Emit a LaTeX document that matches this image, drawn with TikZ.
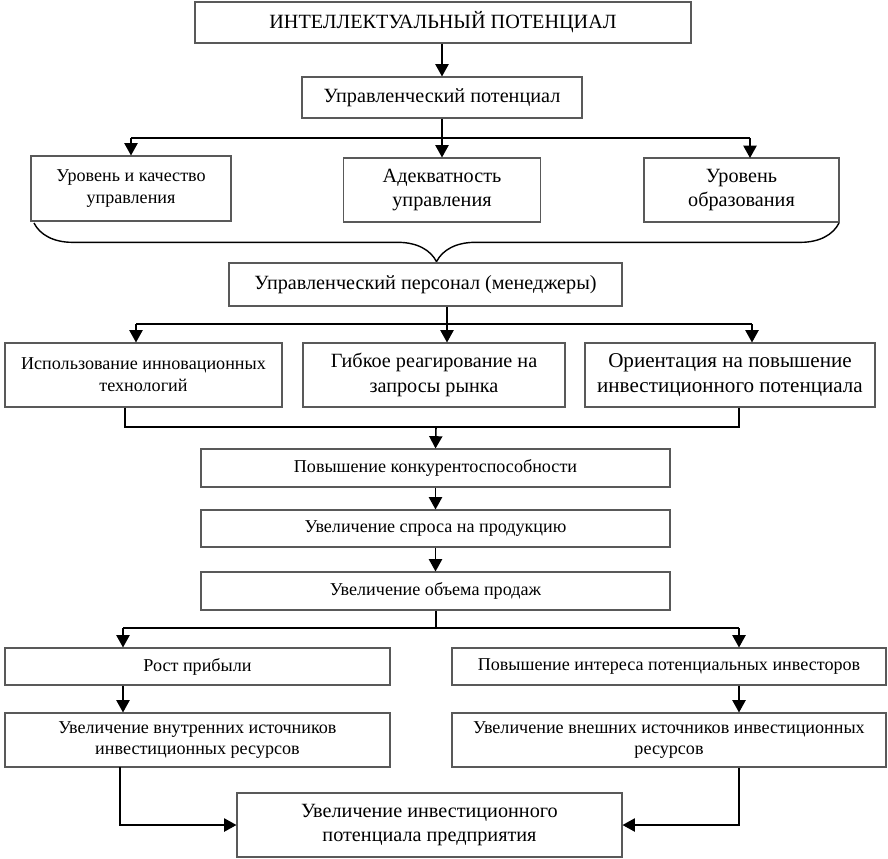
\documentclass[tikz,border=0pt]{standalone}
\usepackage{fontspec}
\setmainfont{Liberation Serif}
\usetikzlibrary{arrows.meta,decorations.pathreplacing,calc}

\tikzset{
  box/.style={draw=black!65, line width=0.6pt, align=center, inner sep=0pt},
  txtsmall/.style={font=\fontsize{10.3}{12.5}\selectfont},
  txtmid/.style={font=\fontsize{11.5}{14}\selectfont},
  txtbig/.style={font=\fontsize{12}{14.5}\selectfont},
  link/.style={line width=0.9pt},
  arr/.style={line width=0.9pt, -{Triangle[length=7pt,width=7.5pt]}}
}

\begin{document}
\begin{tikzpicture}
\useasboundingbox (0,0) rectangle (17.76,-17.16);

% Level 1
\node[box,txtmid,minimum width=9.92cm,minimum height=0.82cm] (intel) at (8.86,-0.45) {ИНТЕЛЛЕКТУАЛЬНЫЙ ПОТЕНЦИАЛ};
\node[box,txtmid,minimum width=5.6cm,minimum height=0.82cm] (upr) at (8.84,-1.95) {Управленческий потенциал};
\draw[arr] (intel.south -| upr) -- (upr.north);

% Level 2 (three factors)
\node[box,txtsmall,minimum width=4.0cm,minimum height=1.3cm] (kach) at (2.62,-3.77) {Уровень и качество\\управления};
\node[box,txtmid,minimum width=3.94cm,minimum height=1.28cm] (adek) at (8.84,-3.8) {Адекватность\\управления};
\node[box,txtmid,minimum width=3.9cm,minimum height=1.28cm] (obraz) at (14.83,-3.8) {Уровень\\образования};
\coordinate (b1) at (8.84,-2.76);
\draw[link] (upr.south) -- (b1);
\draw[link] (b1 -| kach) -- (15.0,-2.76);
\draw[arr] (b1 -| kach) -- (kach.north);
\draw[arr] (b1) -- (adek.north);
\draw[arr] (15.0,-2.76) -- (15.0,-3.16);

% brace under the factors
\draw[link,line width=0.8pt,decorate,decoration={brace,mirror,amplitude=22pt}] (0.68,-4.46) -- (16.78,-4.46);

% Level 3
\node[box,txtmid,minimum width=7.86cm,minimum height=0.86cm] (pers) at (8.51,-5.69) {Управленческий персонал (менеджеры)};
\coordinate (d1) at (2.72,-6.48);
\coordinate (d2) at (8.94,-6.48);
\coordinate (d3) at (15.04,-6.48);
\node[box,txtsmall,minimum width=5.54cm,minimum height=1.28cm] (innov) at (2.87,-7.5) {Использование инновационных\\технологий};
\node[box,txtmid,minimum width=5.24cm,minimum height=1.28cm] (gibk) at (8.68,-7.5) {Гибкое реагирование на\\запросы рынка};
\node[box,txtbig,minimum width=5.8cm,minimum height=1.28cm] (orient) at (14.6,-7.5) {Ориентация на повышение\\инвестиционного потенциала};
\draw[link] (pers.south -| d2) -- (d2);
\draw[link] (d1) -- (d3);
\draw[arr] (d1) -- (d1 |- innov.north);
\draw[arr] (d2) -- (d2 |- gibk.north);
\draw[arr] (d3) -- (d3 |- orient.north);

% chain in the middle
\node[box,txtsmall,minimum width=9.38cm,minimum height=0.76cm] (konk) at (8.71,-9.36) {Повышение конкурентоспособности};
\node[box,txtsmall,minimum width=9.38cm,minimum height=0.74cm] (spros) at (8.71,-10.57) {Увеличение спроса на продукцию};
\node[box,txtsmall,minimum width=9.38cm,minimum height=0.76cm] (obem) at (8.71,-11.82) {Увеличение объема продаж};
\coordinate (j1) at (8.72,-8.54);
\draw[link] ($(innov.south)+(-0.37,0)$) |- (j1);
\draw[link] ($(orient.south)+(0.18,0)$) |- (j1);
\draw[arr] (j1) -- (konk.north);
\draw[arr] (konk) -- (spros);
\draw[arr] (spros) -- (obem);

% two branches
\node[box,txtsmall,minimum width=7.7cm,minimum height=0.74cm] (prib) at (3.95,-13.33) {Рост прибыли};
\node[box,txtsmall,minimum width=8.68cm,minimum height=0.74cm] (inter) at (13.38,-13.33) {Повышение интереса потенциальных инвесторов};
\node[box,txtsmall,minimum width=7.7cm,minimum height=1.08cm] (vnutr) at (3.95,-14.8) {Увеличение внутренних источников\\инвестиционных ресурсов};
\node[box,txtsmall,minimum width=8.68cm,minimum height=1.08cm] (vnesh) at (13.38,-14.8) {Увеличение внешних источников инвестиционных\\ресурсов};
\coordinate (e1) at (2.46,-12.56);
\coordinate (e2) at (14.78,-12.56);
\draw[link] (obem.south -| j1) -- (j1 |- e1);
\draw[link] (e1) -- (e2);
\draw[arr] (e1) -- (e1 |- prib.north);
\draw[arr] (e2) -- (e2 |- inter.north);
\draw[arr] (e1 |- prib.south) -- (e1 |- vnutr.north);
\draw[arr] (e2 |- inter.south) -- (e2 |- vnesh.north);

% result
\node[box,txtmid,minimum width=7.7cm,minimum height=1.28cm] (itog) at (8.59,-16.5) {Увеличение инвестиционного\\потенциала предприятия};
\draw[arr] (2.4,-15.34) |- (itog.west);
\draw[arr] (e2 |- vnesh.south) |- (itog.east);

\end{tikzpicture}
\end{document}
